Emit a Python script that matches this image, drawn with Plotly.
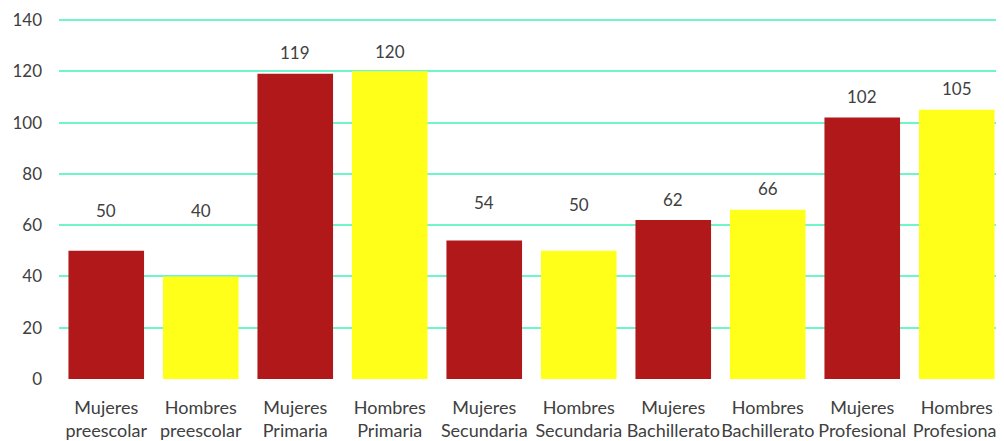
import plotly.graph_objects as go

categories = ["Mujeres<br>preescolar", "Hombres<br>preescolar", "Mujeres<br>Primaria", "Hombres<br>Primaria",
              "Mujeres<br>Secundaria", "Hombres<br>Secundaria", "Mujeres<br>Bachillerato", "Hombres<br>Bachillerato",
              "Mujeres<br>Profesional", "Hombres<br>Profesional"]
values = [50, 40, 119, 120, 54, 50, 62, 66, 102, 105]
label_shift_px = [40, 66, 21, 20, 38, 46, 21, 21, 21, 21]
y_ticks = [0, 20, 40, 60, 80, 100, 120, 140]

RED = "#B0181A"
YELLOW = "#FFFF1A"
colors = [RED if i % 2 == 0 else YELLOW for i in range(len(values))]

fig = go.Figure()
fig.add_trace(go.Bar(x=categories, y=values, marker=dict(color=colors, line=dict(width=0)),
                     hoverinfo="x+y"))

for c, v, s in zip(categories, values, label_shift_px):
    fig.add_annotation(x=c, y=v, text=str(v), showarrow=False, yshift=s,
                       font=dict(family="Lato, sans-serif", size=17, color="#404040"))

# page body has an 8px default margin, so the figure is sized to fit the window
fig.update_layout(
    width=996, height=433,
    margin=dict(l=51, r=0, t=11, b=62),
    paper_bgcolor="white", plot_bgcolor="white",
    bargap=0.2, showlegend=False,
    font=dict(family="Lato, sans-serif", size=17, color="#404040"),
)
fig.update_xaxes(showline=False, ticks="", ticklabelstandoff=16, automargin=False, tickangle=0,
                 tickfont=dict(size=18, color="#404040"))
fig.update_yaxes(range=[0, 140.4], tickvals=y_ticks, showgrid=True, gridcolor="#70F5C8", gridwidth=1.5,
                 zeroline=True, zerolinecolor="white", zerolinewidth=2, showline=False, automargin=False,
                 ticks="", ticklabelstandoff=16, tickfont=dict(size=17, color="#404040"))

fig.write_html("out.html")
